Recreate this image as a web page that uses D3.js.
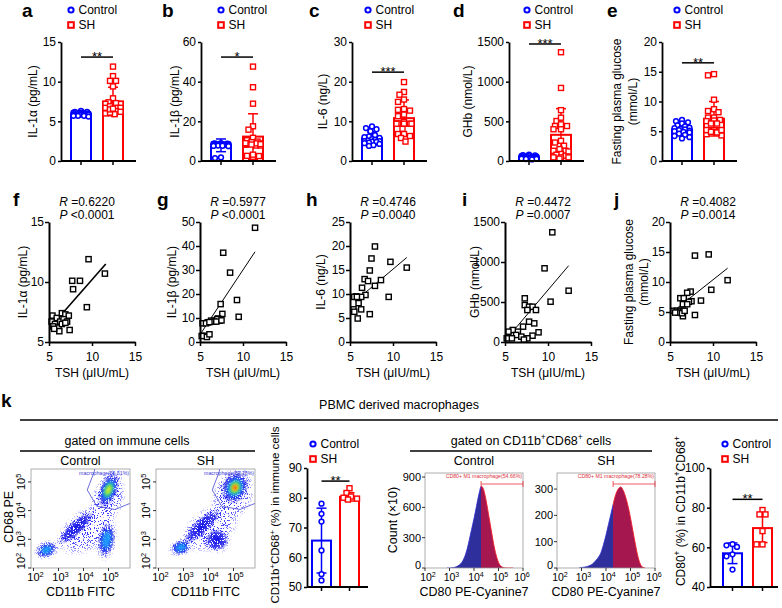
<!DOCTYPE html>
<html><head><meta charset="utf-8">
<script src="https://cdn.jsdelivr.net/npm/d3@7"></script>
<style>body{margin:0;background:#fff}svg{display:block}</style>
</head><body>
<svg id="c" width="782" height="608"></svg>
<script>
// ================= DATA =================
// Panels a–e (bar + dot plots)
const barPanelLabels = ["a","b","c","d","e"];
const barYTitles = [["IL-1α (pg/mL)"],["IL-1β (pg/mL)"],["IL-6 (ng/L)"],["GHb (nmol/L)"],["Fasting plasma glucose","(mmol/L)"]];
const barYMax = [15, 60, 30, 1500, 20];
const barYTicks = [[0,5,10,15],[0,20,40,60],[0,10,20,30],[0,500,1000,1500],[0,5,10,15,20]];
const barStars = ["**","*","***","***","**"];
const barSigY = [13.1, 52.4, 22.4, 1475, 16.5];
const barMeans = [[5.9,7.5],[7.9,12.3],[5.7,10.8],[46,330],[5.3,7.1]];
const barSDs = [[0.2,1.8],[3.2,11.5],[1.6,4.6],[18,330],[0.9,2.9]];
const il1aControl = [6.3,6.2,6.2,6.1,6.1,6.0,6.0,6.0,5.9,5.9,5.9,5.9,5.8,5.8,5.8,5.8,5.7,5.7,5.7,5.6];
const il1bControl = [9.0,8.9,8.8,8.7,8.6,8.5,8.5,8.4,8.3,8.2,8.1,8.0,8.0,7.9,7.8,7.7,7.6,7.5,1.8,1.5];
const il6Control = [8.7,8.3,8.0,7.5,6.5,6.2,6.0,5.8,5.5,5.3,5.2,5.0,5.0,4.9,4.8,4.6,4.5,4.3,4.0,3.8];
const ghbControl = [80,75,70,65,60,58,55,52,50,48,45,42,40,38,35,32,30,28,25,20];
const gluControl = [6.9,6.7,6.5,6.3,6.0,5.8,5.6,5.5,5.4,5.3,5.2,5.1,5.0,4.9,4.8,4.6,4.4,4.2,4.0,3.8];

// Panels f–j: [TSH, value] for SH patients
const tshIL1a = [[9.6,11.9],[11.5,10.7],[7.7,10.1],[8.6,10.1],[7.8,9.4],[9.4,7.9],[5.4,7.2],[5.9,7.0],[6.5,7.4],[6.9,7.3],[7.3,7.2],[5.3,6.7],[5.7,6.5],[6.3,6.7],[6.7,6.9],[7.1,6.7],[5.5,6.3],[6.1,6.2],[6.2,5.9],[7.4,6.0],[5.6,6.1],[6.5,6.5],[6.9,6.6]];
const tshIL1b = [[11.4,47.6],[7.7,37.2],[8.5,28.9],[9.3,17.5],[9.5,10.5],[7.4,15.8],[7.6,11.7],[7.3,8.9],[7.1,9.8],[6.3,8.9],[5.9,8.2],[5.3,7.8],[5.7,7.8],[6.8,8.9],[7.0,9.5],[5.5,2.6],[5.8,2.1],[6.1,3.2],[5.2,2.5],[6.6,8.5],[6.9,8.5],[7.5,9.0],[6.1,8.3]];
const tshIL6 = [[7.9,19.9],[7.5,17.4],[9.7,16.7],[11.6,15.5],[7.3,14.9],[6.7,13.1],[7.1,12.7],[8.6,12.9],[7.9,11.7],[6.4,11.3],[6.8,9.8],[6.3,9.4],[5.7,9.5],[5.5,9.4],[9.5,9.4],[6.0,8.1],[6.3,6.8],[5.4,6.8],[5.5,6.3],[7.3,5.8],[5.9,4.9],[5.8,9.4]];
const tshGHb = [[10.5,1371],[9.6,921],[12.4,641],[10.3,504],[7.3,546],[7.3,462],[7.8,441],[8.2,441],[8.6,400],[7.6,400],[7.8,254],[8.4,233],[7.1,192],[6.5,129],[5.9,150],[5.4,129],[6.3,88],[6.9,67],[8.9,121],[8.2,79],[7.6,46],[5.8,46],[5.2,46],[7.2,30]];
const tshGlu = [[7.9,14.4],[9.5,14.6],[11.7,10.3],[9.8,8.7],[7.4,8.4],[7.0,8.2],[6.2,7.3],[6.6,7.3],[8.6,6.9],[7.5,6.8],[7.2,6.7],[6.5,6.3],[7.0,6.3],[7.9,4.5],[6.5,4.3],[5.4,5.2],[5.8,5.2],[6.2,5.2],[6.5,5.2],[6.0,4.9],[5.6,4.9],[6.4,4.8],[6.7,5.2]];
const scatterLabels = ["f","g","h","i","j"];
const scatterData = [tshIL1a, tshIL1b, tshIL6, tshGHb, tshGlu];
const scatterYDomain = [[5,15],[0,50],[0,25],[0,1500],[0,20]];
const scatterYTicks = [[5,10,15],[0,10,20,30,40,50],[0,5,10,15,20,25],[0,500,1000,1500],[0,5,10,15,20]];
const scatterFits = [[[5.3,6.35],[11.6,11.5]],[[5.1,3.6],[11.4,37.6]],[[5.6,8.5],[11.6,17.6]],[[5.4,67],[12.4,954]],[[5.8,5.6],[11.7,12.3]]];
const scatterR = ["0.6220","0.5977","0.4746","0.4472","0.4082"];
const scatterP = ["<0.0001","<0.0001","=0.0040","=0.0007","=0.0014"];
const xTicksTSH = [5,10,15];

// Panel k
const macroControl = [78.0,74.6,72.0,62.3,54.3,52.2];
const macroSH = [83.2,81.6,80.4,80.0,79.7,79.4];
const macroMean = [65.6,80.3], macroSD = [10.9,1.4];
const m1Control = [61.6,61.0,60.2,56.5,55.5,48.8];
const m1SH = [78.8,76.6,76.6,68.2,61.5,61.5];
const m1Mean = [57.0,69.7], m1SD = [5.2,7.3];
// flow cytometry populations: [log CD11b, log CD68, spread x (dec), spread y (dec), tilt deg, peak density level]
const flowControlPops = [[4.1,3.3,1.35,0.75,-35,0],[4.95,4.35,0.7,0.95,25,0],[3.7,3.4,1.2,0.33,-43,1],[5.0,4.72,0.5,0.85,22,4],[4.92,2.98,0.45,0.8,8,2],[2.52,2.63,0.55,0.34,-20,2]];
const flowSHPops = [[4.1,3.4,1.35,0.75,-35,0],[4.95,4.5,0.85,0.9,25,0],[3.75,3.46,1.25,0.36,-43,1],[5.06,4.8,0.72,0.78,25,6],[4.34,2.98,0.6,0.5,0,1],[2.9,2.72,0.55,0.32,-20,2]];
const flowGate = [[4.5,5.7],[4.43,5.36],[4.15,4.72],[4.53,4.15],[5.26,4.04],[6.0,4.3]];
const flowGateText = ["macrophage(56.61%)","macrophage(83.28%)"];
// CD80 histograms (log10 fluorescence bins, counts)
const histBins = [2.9,3.0,3.1,3.2,3.3,3.4,3.5,3.6,3.7,3.8,3.9,4.0,4.1,4.2,4.3,4.4,4.5,4.6,4.7,4.8,4.9,5.0,5.1,5.2,5.3,5.4,5.5,5.6];
const histControl = [0,0,2,6,15,30,55,100,170,270,380,490,610,730,810,770,660,520,380,240,130,55,18,4,0,0,0,0];
const histSH = [0,2,3,5,8,12,20,30,42,60,90,125,165,205,245,280,300,308,295,270,235,190,140,90,45,15,3,0];
const histGateLog = 4.29;
const histGateText = ["CD80+ M1 macrophage(54.66%)","CD80+ M1 macrophage(78.28%)"];

// ================= DRAWING =================
const FONT = "'Liberation Sans', Arial, Helvetica, sans-serif";
const BLUE = "#0000ff", RED = "#ff0000";
const svg = d3.select("#c");
const defs = svg.append("defs");

function txt(p, x, y, s, o = {}) {
  const size = o.size || 12;
  const t = p.append("text").attr("x", x).attr("y", y).attr("font-family", FONT)
    .attr("font-size", size).attr("fill", o.fill || "#000").attr("text-anchor", o.anchor || "start");
  if (o.weight) t.attr("font-weight", o.weight);
  if (o.rotate) t.attr("transform", `rotate(${o.rotate},${x},${y})`);
  const parts = s.split(/(\^\{[^}]*\})/).filter(q => q.length);
  let sup = false;
  parts.forEach(q => {
    if (q.startsWith("^{")) {
      t.append("tspan").attr("dy", -size * 0.38).attr("font-size", size * 0.68).text(q.slice(2, -1));
      sup = true;
    } else {
      const ts = t.append("tspan").text(q);
      if (sup) { ts.attr("dy", size * 0.38); sup = false; }
    }
  });
  return t;
}
function styleAxis(ax, size, w) {
  ax.select(".domain").attr("stroke", "#000").attr("stroke-width", w || 1.8);
  ax.selectAll(".tick line").attr("stroke", "#000").attr("stroke-width", 1.5);
  ax.selectAll(".tick text").attr("font-family", FONT).attr("font-size", size).attr("fill", "#000");
}
function swarmOffsets(vals, yS, r, maxOff) {
  const idx = vals.map((v, i) => i).sort((a, b) => vals[b] - vals[a]);
  const cands = [0];
  for (let k = 1.5; k <= maxOff; k += 1.5) cands.push(-k, k);
  const placed = [], off = new Array(vals.length).fill(0);
  idx.forEach(i => {
    const py = yS(vals[i]);
    let best = 0, bestOv = Infinity;
    for (const c of cands) {
      let ov = 0;
      for (const p of placed) { const d = Math.hypot(p[0] - c, p[1] - py); if (d < 2 * r) ov += 2 * r - d; }
      if (ov === 0) { best = c; break; }
      if (ov < bestOv - 0.5) { bestOv = ov; best = c; }
    }
    off[i] = best; placed.push([best, py]);
  });
  return off;
}
function legend(p, cx, cy, fs) {
  p.append("circle").attr("cx", cx).attr("cy", cy).attr("r", 2.6).attr("fill", "#fff").attr("stroke", BLUE).attr("stroke-width", 2);
  txt(p, cx + 7.5, cy + 4.3, "Control", { size: fs });
  p.append("rect").attr("x", cx - 2.8).attr("y", cy + 15 - 2.8).attr("width", 5.6).attr("height", 5.6).attr("fill", "#fff").attr("stroke", RED).attr("stroke-width", 2);
  txt(p, cx + 7.5, cy + 19.3, "SH", { size: fs });
}
function drawBars(cfg) {
  const { x0, yDom, yRange, ticks, ctrl, sh, mean, sd, star, sigY, barOff, barW, endX } = cfg;
  const y = d3.scaleLinear().domain(yDom).range(yRange);
  const yb = yRange[0];
  const g = svg.append("g");
  const centers = [x0 + barOff[0] + barW / 2, x0 + barOff[1] + barW / 2];
  [0, 1].forEach(k => {
    const col = k ? RED : BLUE;
    const cx = centers[k];
    g.append("rect").attr("x", x0 + barOff[k]).attr("y", y(mean[k])).attr("width", barW)
      .attr("height", yb - y(mean[k])).attr("fill", "#fff").attr("stroke", col).attr("stroke-width", 2);
    const hi = mean[k] + sd[k], lo = Math.max(yDom[0], mean[k] - sd[k]);
    g.append("line").attr("x1", cx).attr("x2", cx).attr("y1", y(hi)).attr("y2", y(lo)).attr("stroke", col).attr("stroke-width", 1.5);
    [hi, mean[k] - sd[k]].forEach(v => {
      if (v > yDom[0]) g.append("line").attr("x1", cx - 5).attr("x2", cx + 5).attr("y1", y(v)).attr("y2", y(v)).attr("stroke", col).attr("stroke-width", 1.5);
    });
    const vals = k ? sh : ctrl;
    const offs = swarmOffsets(vals, y, 2.6, barW / 2 - 2);
    vals.forEach((v, i) => {
      const px = cx + offs[i], py = y(v);
      if (k === 0) g.append("circle").attr("cx", px).attr("cy", py).attr("r", 2.4).attr("fill", "#fff").attr("stroke", BLUE).attr("stroke-width", 1.5);
      else g.append("rect").attr("x", px - 2.5).attr("y", py - 2.5).attr("width", 5).attr("height", 5).attr("fill", "#fff").attr("stroke", RED).attr("stroke-width", 1.4);
    });
  });
  const ax = g.append("g").attr("transform", `translate(${x0},0)`)
    .call(d3.axisLeft(y).tickValues(ticks).tickSize(3).tickSizeOuter(0).tickPadding(2).tickFormat(d3.format("d")));
  styleAxis(ax, 12);
  g.append("line").attr("x1", x0).attr("x2", endX).attr("y1", yb).attr("y2", yb).attr("stroke", "#000").attr("stroke-width", 1.8);
  centers.forEach(c => g.append("line").attr("x1", c).attr("x2", c).attr("y1", yb).attr("y2", yb + 4).attr("stroke", "#000").attr("stroke-width", 1.5));
  const sy = y(sigY);
  g.append("line").attr("x1", centers[0]).attr("x2", centers[1]).attr("y1", sy).attr("y2", sy).attr("stroke", "#000").attr("stroke-width", 1.5);
  txt(g, (centers[0] + centers[1]) / 2, sy + 4, star, { anchor: "middle", size: 13 });
  return centers;
}

// ----- Row 1 (a–e) -----
const barX0 = [61, 201, 352, 509, 662];
const barLegendX = [71, 221, 368, 527, 677];
const barLabelX = [22, 162, 309, 453, 607];
const barTitleX = [[37], [179], [327], [472], [621, 637]];
const barCtrlSets = [il1aControl, il1bControl, il6Control, ghbControl, gluControl];
barPanelLabels.forEach((lab, i) => {
  const x0 = barX0[i];
  const sh = scatterData[i].map(d => d[1]);
  drawBars({ x0, yDom: [0, barYMax[i]], yRange: [161, 42], ticks: barYTicks[i], ctrl: barCtrlSets[i], sh,
    mean: barMeans[i], sd: barSDs[i], star: barStars[i], sigY: barSigY[i], barOff: [10, 42], barW: 20, endX: x0 + 75 });
  txt(svg, barLabelX[i], 17, lab, { size: 19, weight: "bold" });
  legend(svg, barLegendX[i], 10, 12);
  barYTitles[i].forEach((t, j) => txt(svg, barTitleX[i][j], 101.5, t, { anchor: "middle", rotate: -90, size: 12 }));
});

// ----- Row 2 (f–j) -----
const scX0 = [49, 200, 350, 505, 670];
const scLabelX = [13, 157, 306, 462, 614];
const scTitles = [["IL-1α (pg/mL)"], ["IL-1β (pg/mL)"], ["IL-6 (ng/L)"], ["GHb (nmol/L)"], ["Fasting plasma glucose", "(mmol/L)"]];
const scTitleX = [[27], [176], [325], [479], [633, 648]];
scatterLabels.forEach((lab, i) => {
  const x0 = scX0[i];
  const x = d3.scaleLinear().domain([5, 15]).range([x0, x0 + 86]);
  const y = d3.scaleLinear().domain(scatterYDomain[i]).range([342, 222]);
  const g = svg.append("g");
  const f = scatterFits[i];
  g.append("line").attr("x1", x(f[0][0])).attr("y1", y(f[0][1])).attr("x2", x(f[1][0])).attr("y2", y(f[1][1]))
    .attr("stroke", "#000").attr("stroke-width", i === 0 ? 1.6 : 1);
  scatterData[i].forEach(d => {
    g.append("rect").attr("x", x(d[0]) - 2.6).attr("y", y(d[1]) - 2.6).attr("width", 5.2).attr("height", 5.2)
      .attr("fill", "#fff").attr("stroke", "#000").attr("stroke-width", 1.4);
  });
  const ay = g.append("g").attr("transform", `translate(${x0},0)`)
    .call(d3.axisLeft(y).tickValues(scatterYTicks[i]).tickSize(4).tickSizeOuter(0).tickPadding(1).tickFormat(d3.format("d")));
  styleAxis(ay, 12, 2);
  const axb = g.append("g").attr("transform", `translate(0,342)`)
    .call(d3.axisBottom(x).tickValues(xTicksTSH).tickSize(4).tickSizeOuter(0).tickPadding(6));
  styleAxis(axb, 12, 2);
  txt(g, x0 + 43, 377, "TSH (μIU/mL)", { anchor: "middle", size: 12 });
  txt(svg, scLabelX[i], 206, lab, { size: 19, weight: "bold" });
  const t1 = svg.append("text").attr("x", x0 + 38).attr("y", 206).attr("text-anchor", "middle").attr("font-family", FONT).attr("font-size", 12);
  t1.append("tspan").attr("font-style", "italic").text("R");
  t1.append("tspan").text(" =" + scatterR[i]);
  const t2 = svg.append("text").attr("x", x0 + 38).attr("y", 219).attr("text-anchor", "middle").attr("font-family", FONT).attr("font-size", 12);
  t2.append("tspan").attr("font-style", "italic").text("P");
  t2.append("tspan").text(" " + scatterP[i]);
  scTitles[i].forEach((t, j) => txt(svg, scTitleX[i][j], 282, t, { anchor: "middle", rotate: -90, size: 12 }));
});

// ----- Row 3 (k) -----
txt(svg, 1, 407, "k", { size: 19, weight: "bold" });
txt(svg, 399, 409, "PBMC derived macrophages", { anchor: "middle", size: 12.5 });
svg.append("line").attr("x1", 20).attr("x2", 778).attr("y1", 420).attr("y2", 420).attr("stroke", "#000").attr("stroke-width", 1.5);
txt(svg, 127, 445, "gated on immune cells", { anchor: "middle", size: 12.5 });
svg.append("line").attr("x1", 20).attr("x2", 255).attr("y1", 451).attr("y2", 451).attr("stroke", "#000").attr("stroke-width", 1.5);
txt(svg, 531, 445, "gated on CD11b^{+}CD68^{+} cells", { anchor: "middle", size: 12.5 });
svg.append("line").attr("x1", 410).attr("x2", 652).attr("y1", 451).attr("y2", 451).attr("stroke", "#000").attr("stroke-width", 1.5);

// filters & gradients for flow density
function speckle(id, thr, seed, freq) {
  const f = defs.append("filter").attr("id", id).attr("filterUnits", "userSpaceOnUse")
    .attr("x", 0).attr("y", 0).attr("width", 782).attr("height", 608).attr("color-interpolation-filters", "sRGB");
  f.append("feTurbulence").attr("type", "fractalNoise").attr("baseFrequency", freq).attr("numOctaves", 2).attr("seed", seed).attr("result", "n");
  f.append("feColorMatrix").attr("in", "n").attr("type", "matrix")
    .attr("values", `0 0 0 0 0  0 0 0 0 0  0 0 0 0 0  30 0 0 0 ${-30 * thr}`).attr("result", "m");
  f.append("feComposite").attr("in", "SourceGraphic").attr("in2", "m").attr("operator", "in");
}
speckle("spkSparse", 0.58, 3, 1.3);
speckle("spkDense", 0.4, 9, 1.3);
defs.append("filter").attr("id", "soft").attr("x", "-30%").attr("y", "-30%").attr("width", "160%").attr("height", "160%")
  .append("feGaussianBlur").attr("stdDeviation", 1.4);
const lvlScale = [1, 0.78, 0.5, 0.36, 0.25, 0.16, 0.09];
const lvlColor = ["#2a2aff", "#1414e6", "#1e9cff", "#22d27a", "#d6ee2a", "#ff9a10", "#ff1a00"];
lvlColor.forEach((c, i) => {
  const gr = defs.append("radialGradient").attr("id", "lv" + i);
  gr.append("stop").attr("offset", 0).attr("stop-color", c).attr("stop-opacity", 1);
  gr.append("stop").attr("offset", 0.6).attr("stop-color", c).attr("stop-opacity", i < 2 ? 0.8 : 0.92);
  gr.append("stop").attr("offset", 1).attr("stop-color", c).attr("stop-opacity", 0);
});

function drawFlow(L, pops, gateText, title, idx) {
  const Rr = L + 99, T = 469, B = 568;
  const x = d3.scaleLinear().domain([1.9, 5.86]).range([L, Rr]);
  const y = d3.scaleLinear().domain([2, 5.45]).range([B, T]);
  const pxX = 25, pxY = 28.7;
  const cid = "fclip" + idx;
  defs.append("clipPath").attr("id", cid).append("rect").attr("x", L).attr("y", T).attr("width", Rr - L).attr("height", B - T);
  const g = svg.append("g").attr("clip-path", `url(#${cid})`);
  for (let lev = 0; lev < lvlScale.length; lev++) {
    const grp = g.append("g").attr("filter", lev === 0 ? "url(#spkSparse)" : lev === 1 ? "url(#spkDense)" : "url(#soft)");
    pops.filter(p => p[5] >= lev).forEach(p => {
      grp.append("ellipse").attr("transform", `translate(${x(p[0])},${y(p[1])}) rotate(${p[4]})`)
        .attr("rx", p[2] * pxX * lvlScale[lev]).attr("ry", p[3] * pxY * lvlScale[lev]).attr("fill", `url(#lv${lev})`);
    });
  }
  g.append("path").attr("d", d3.line()(flowGate.map(d => [x(d[0]), y(d[1])]))).attr("fill", "none").attr("stroke", "#4646d2").attr("stroke-width", 0.8);
  txt(svg, Rr - 1, T + 5.5, gateText, { anchor: "end", size: 5.2, fill: "#3c3cd6" });
  svg.append("rect").attr("x", L).attr("y", T).attr("width", Rr - L).attr("height", B - T).attr("fill", "none").attr("stroke", "#9a9a9a").attr("stroke-width", 0.8);
  [2, 3, 4, 5].forEach(e => {
    const tx = x(e);
    svg.append("line").attr("x1", tx).attr("x2", tx).attr("y1", B).attr("y2", B + 3).attr("stroke", "#000").attr("stroke-width", 0.8);
    txt(svg, tx + 2, 581, "10^{" + e + "}", { anchor: "middle", size: 11 });
    const ty = y(e);
    svg.append("line").attr("x1", L - 3).attr("x2", L).attr("y1", ty).attr("y2", ty).attr("stroke", "#000").attr("stroke-width", 0.8);
    txt(svg, L - 6, Math.min(ty, B - 7), "10^{" + e + "}", { anchor: "middle", size: 11, rotate: -90 });
  });
  txt(svg, (L + Rr) / 2, 596, "CD11b FITC", { anchor: "middle", size: 12.5 });
  txt(svg, (L + Rr) / 2, 465, title, { anchor: "middle", size: 12.5 });
}
drawFlow(31, flowControlPops, flowGateText[0], "Control", 0);
drawFlow(156, flowSHPops, flowGateText[1], "SH", 1);
txt(svg, 13, 517, "CD68 PE", { anchor: "middle", size: 12.5, rotate: -90 });

// bar chart k (macrophage %)
drawBars({ x0: 307, yDom: [50, 90], yRange: [587, 468], ticks: [50, 60, 70, 80, 90], ctrl: macroControl, sh: macroSH,
  mean: macroMean, sd: macroSD, star: "**", sigY: 85.6, barOff: [5, 33], barW: 19, endX: 368 });
legend(svg, 313, 444, 12);
txt(svg, 279, 515, "CD11b^{+}CD68^{+} (%) in immune cells", { anchor: "middle", size: 11.5, rotate: -90 });

// histograms
function drawHist(L, counts, yMax, ticks, gateText, title, idx) {
  const Rr = L + 98, T = 473, B = 568;
  const x = d3.scaleLinear().domain([2, 6]).range([L, Rr]);
  const y = d3.scaleLinear().domain([0, yMax]).range([B, T]);
  const data = histBins.map((b, i) => [b, counts[i]]);
  const thr = x(histGateLog);
  const cl = "hl" + idx, cr = "hr" + idx;
  defs.append("clipPath").attr("id", cl).append("rect").attr("x", L).attr("y", T).attr("width", thr - L).attr("height", B - T);
  defs.append("clipPath").attr("id", cr).append("rect").attr("x", thr).attr("y", T - 10).attr("width", Rr - thr).attr("height", B - T + 10);
  const area = d3.area().x(d => x(d[0])).y0(B).y1(d => y(d[1])).curve(d3.curveMonotoneX);
  const line = d3.line().x(d => x(d[0])).y(d => y(d[1])).curve(d3.curveMonotoneX);
  svg.append("path").attr("d", area(data)).attr("fill", "#2e2e9c").attr("clip-path", `url(#${cl})`);
  svg.append("path").attr("d", line(data)).attr("fill", "none").attr("stroke", "#2a2ad0").attr("stroke-width", 0.8).attr("clip-path", `url(#${cl})`);
  svg.append("path").attr("d", area(data)).attr("fill", "#a4174f").attr("clip-path", `url(#${cr})`);
  svg.append("path").attr("d", line(data)).attr("fill", "none").attr("stroke", "#f01c28").attr("stroke-width", 0.9).attr("clip-path", `url(#${cr})`);
  svg.append("rect").attr("x", L).attr("y", T).attr("width", Rr - L).attr("height", B - T).attr("fill", "none").attr("stroke", "#9a9a9a").attr("stroke-width", 0.8);
  const gy = 484;
  svg.append("line").attr("x1", thr).attr("x2", Rr).attr("y1", gy).attr("y2", gy).attr("stroke", "#e8303a").attr("stroke-width", 0.8);
  [thr, Rr].forEach(v => svg.append("line").attr("x1", v).attr("x2", v).attr("y1", gy - 3).attr("y2", gy + 3).attr("stroke", "#e8303a").attr("stroke-width", 0.8));
  txt(svg, Rr - 1, 478, gateText, { anchor: "end", size: 5.2, fill: "#e0303a" });
  [2, 3, 4, 5, 6].forEach(e => {
    const tx = x(e);
    svg.append("line").attr("x1", tx).attr("x2", tx).attr("y1", B).attr("y2", B + 3).attr("stroke", "#000").attr("stroke-width", 0.8);
    txt(svg, tx + (e === 2 ? 3 : e === 6 ? -1 : 2), 581, "10^{" + e + "}", { anchor: "middle", size: 10.5 });
  });
  ticks.forEach(v => {
    const ty = y(v);
    svg.append("line").attr("x1", L - 3).attr("x2", L).attr("y1", ty).attr("y2", ty).attr("stroke", "#000").attr("stroke-width", 0.8);
    txt(svg, L - 4, v === 0 ? ty + 1 : ty + 4, String(v), { anchor: "end", size: 11 });
  });
  txt(svg, (L + Rr) / 2, 596, "CD80 PE-Cyanine7", { anchor: "middle", size: 12.5 });
  txt(svg, (L + Rr) / 2, 465, title, { anchor: "middle", size: 12.5 });
}
drawHist(425, histControl, 940, [0, 300, 600, 900], histGateText[0], "Control", 0);
drawHist(557, histSH, 361, [0, 100, 200, 300], histGateText[1], "SH", 1);
txt(svg, 397, 520, "Count (×10)", { anchor: "middle", size: 12.5, rotate: -90 });

// bar chart k (CD80 %)
drawBars({ x0: 710, yDom: [40, 100], yRange: [587, 468], ticks: [40, 60, 80, 100], ctrl: m1Control, sh: m1SH,
  mean: m1Mean, sd: m1SD, star: "**", sigY: 84.2, barOff: [13, 43], barW: 19, endX: 778 });
legend(svg, 725, 444, 12);
txt(svg, 685, 511, "CD80^{+} (%) in CD11b^{+}CD68^{+}", { anchor: "middle", size: 12, rotate: -90 });
</script>
</body></html>
